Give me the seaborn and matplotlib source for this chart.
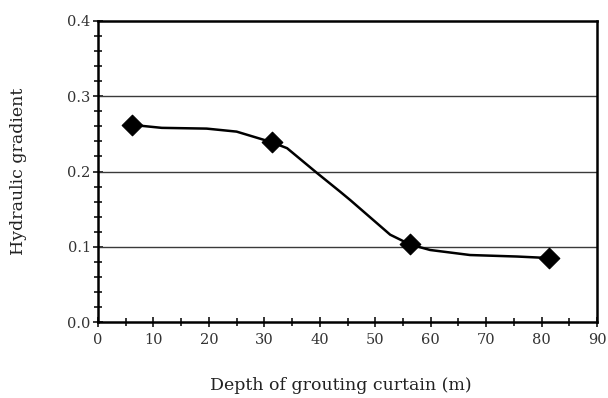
import matplotlib
matplotlib.use("Agg")
import matplotlib.pyplot as plt
from matplotlib.ticker import MultipleLocator
import seaborn as sns
import pandas as pd

# Measured hydraulic gradient at each grouting-curtain depth
depth = [6.1, 31.3, 56.3, 81.3]
gradient = [0.262, 0.239, 0.103, 0.085]

# Hand-fitted trend curve through the measurements
curve_depth = [6.1, 11.5, 19.6, 25.0, 31.3, 34.1, 39.5, 43.7, 45.5, 52.7, 56.3, 59.9, 67.1, 75.6, 81.3]
curve_gradient = [0.262, 0.258, 0.257, 0.253, 0.239, 0.231, 0.198, 0.173, 0.162, 0.116, 0.103, 0.0957, 0.089, 0.087, 0.085]

x_ticks = [0, 10, 20, 30, 40, 50, 60, 70, 80, 90]
y_ticks = [0.0, 0.1, 0.2, 0.3, 0.4]

sns.set_style("white")
plt.rcParams["font.family"] = ["DejaVu Serif"]

fig = plt.figure(figsize=(6.08, 3.98), dpi=100)
ax = fig.add_axes([98 / 608, 1 - 322 / 398, (597 - 98) / 608, (322 - 21) / 398])

points = pd.DataFrame({"depth": depth, "gradient": gradient})
curve = pd.DataFrame({"depth": curve_depth, "gradient": curve_gradient})

for level in (0.1, 0.2, 0.3):
    ax.axhline(level, color="#3a3a3a", lw=1.0, zorder=1)

sns.lineplot(data=curve, x="depth", y="gradient", ax=ax, color="black", lw=1.8,
             sort=False, zorder=3)
sns.scatterplot(data=points, x="depth", y="gradient", ax=ax, marker="D", s=110,
                color="black", edgecolor="black", zorder=4)

ax.set_xlim(0, 90)
ax.set_ylim(0, 0.4)
ax.set_xticks(x_ticks)
ax.set_yticks(y_ticks)
ax.set_xticklabels([str(v) for v in x_ticks])
ax.set_yticklabels([f"{v:.1f}" for v in y_ticks])
ax.xaxis.set_minor_locator(MultipleLocator(5))
ax.yaxis.set_minor_locator(MultipleLocator(0.02))

ax.tick_params(axis="both", which="both", bottom=True, left=True, top=False, right=False)
ax.tick_params(axis="both", which="major", direction="inout", length=6.5, width=1.1,
               colors="black", labelcolor="#333333", labelsize=10.5)
ax.tick_params(axis="both", which="minor", direction="inout", length=6, width=1.1,
               colors="black")
ax.tick_params(axis="y", which="major", pad=2)
ax.tick_params(axis="x", which="major", pad=5)

for side in ["left", "bottom", "right", "top"]:
    ax.spines[side].set_visible(True)
    ax.spines[side].set_color("black")
    ax.spines[side].set_linewidth(1.8)

ax.set_xlabel("Depth of grouting curtain (m)", fontsize=12.5, color="#222222")
ax.set_ylabel("Hydraulic gradient", fontsize=12.5, color="#222222", labelpad=29)
ax.xaxis.set_label_coords(0.486, -0.183)

fig.savefig("out.png", dpi=100)
